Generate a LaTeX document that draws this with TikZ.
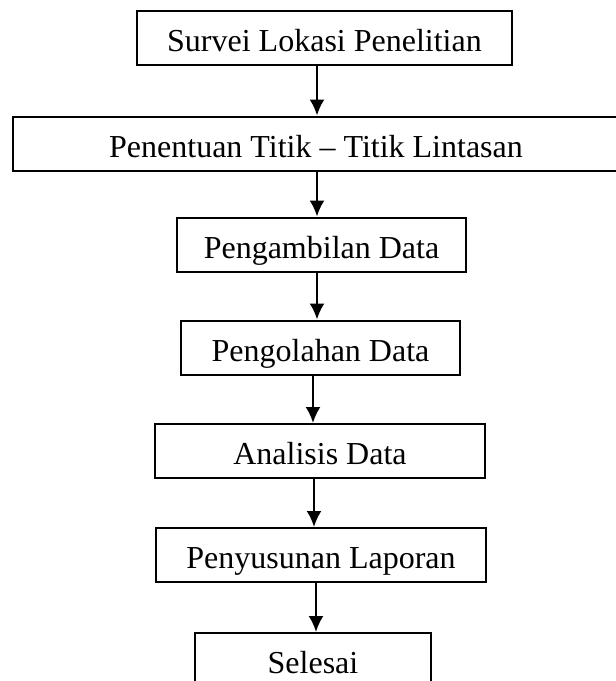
\documentclass[tikz,border=0pt]{standalone}
\usepackage{fontspec}
\setmainfont{Liberation Serif}
\usepackage{tikz}
\usetikzlibrary{arrows.meta}

\begin{document}
\begin{tikzpicture}[x=1pt, y=-1pt, line width=2pt,
        stage/.style = {draw, rectangle, minimum height=54pt, inner ysep=0pt,
            text height=27pt, text depth=0pt, font=\fontsize{32}{38}\selectfont},
        flow/.style = {-{Latex[length=16pt, width=15pt]}, line width=2.2pt}]
            \useasboundingbox (0,0) rectangle (616,681);
            \clip (0,0) rectangle (616,681);

            \node[stage, minimum width=375pt] (A) at (324.5,38) {Survei Lokasi Penelitian};
            \node[stage, minimum width=606pt] (B) at (316,143.5) {Penentuan Titik -- Titik Lintasan};
            \node[stage, minimum width=289pt] (C) at (321.5,244.5) {Pengambilan Data};
            \node[stage, minimum width=279pt] (D) at (320.5,347.5) {Pengolahan Data};
            \node[stage, minimum width=330pt] (E) at (320,451) {Analisis Data};
            \node[stage, minimum width=330pt] (F) at (321,555) {Penyusunan Laporan};
            \node[stage, minimum width=236pt] (G) at (313,660) {Selesai};

            \path[flow] (A.south -| 317,0) edge (B.north -| 317,0);
            \path[flow] (B.south -| 317,0) edge (C.north -| 317,0);
            \path[flow] (C.south -| 317,0) edge (D.north -| 317,0);
            \path[flow] (D.south -| 313,0) edge (E.north -| 313,0);
            \path[flow] (E.south -| 314,0) edge (F.north -| 314,0);
            \path[flow] (F.south -| 316,0) edge (G.north -| 316,0);
        \end{tikzpicture}
\end{document}
